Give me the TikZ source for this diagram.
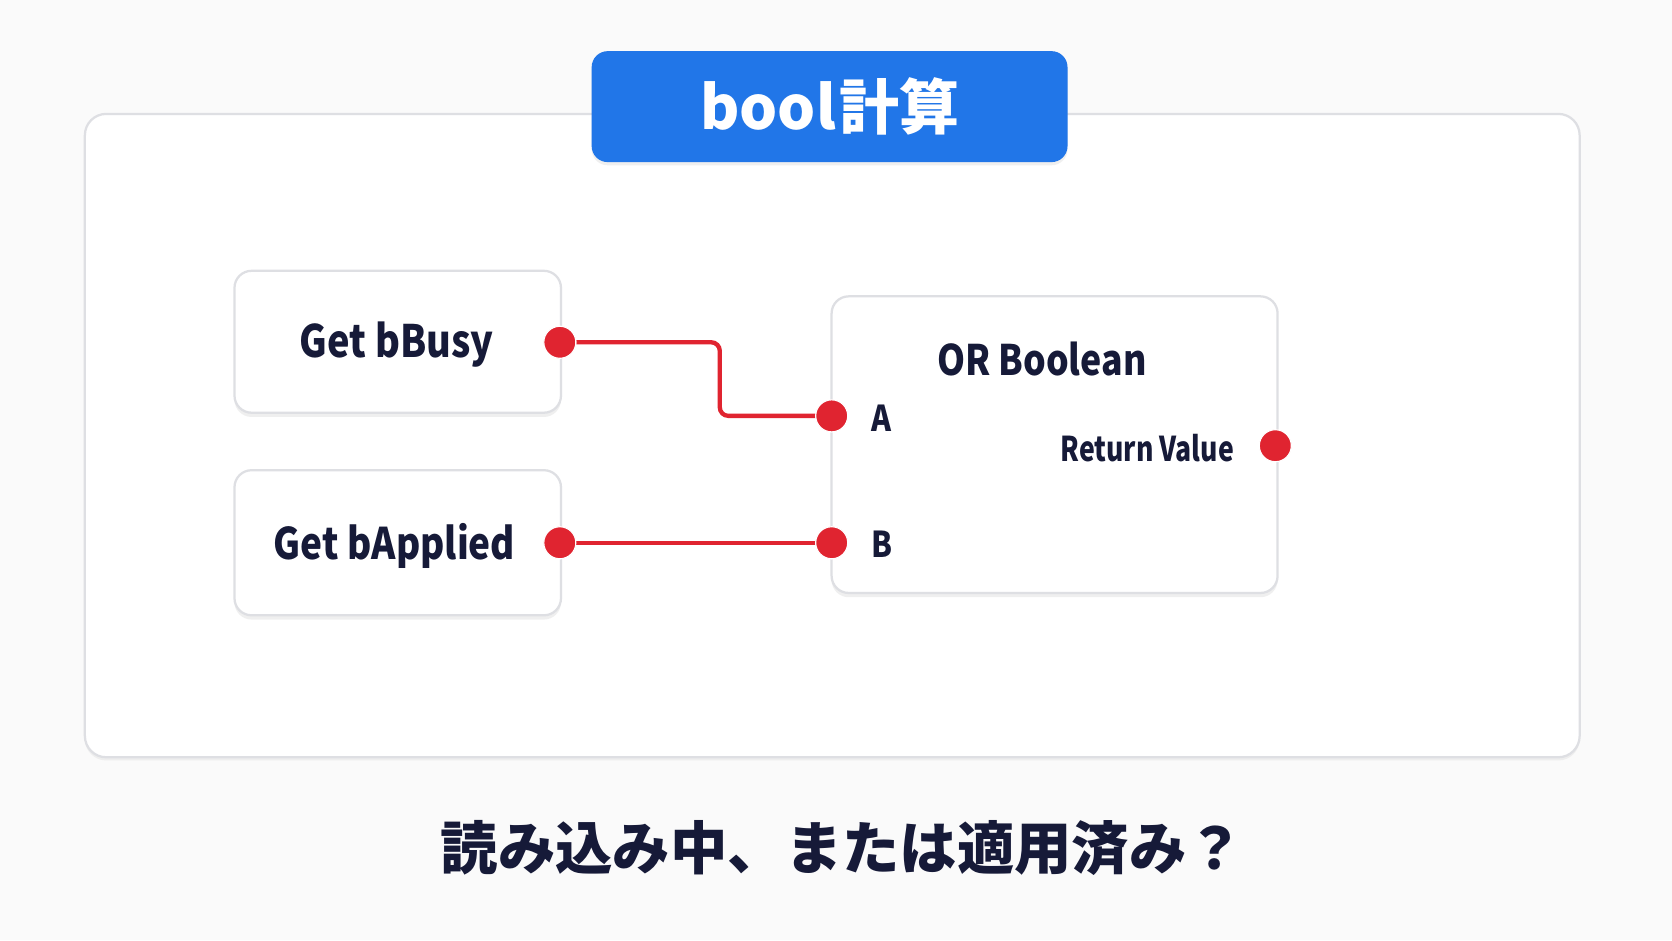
\documentclass[tikz,border=0pt]{standalone}
\usepackage{fontspec}
\setmainfont{Noto Sans CJK JP}
\newfontfamily\latnarrow[FakeStretch=0.85]{Noto Sans CJK JP}
\newfontfamily\latnarrower[FakeStretch=0.78]{Noto Sans CJK JP}
\usetikzlibrary{shadows}
\definecolor{bgc}{RGB}{250,250,250}
\definecolor{titleblue}{RGB}{33,118,232}
\definecolor{pinred}{RGB}{224,36,48}
\definecolor{navy}{RGB}{22,26,56}
\definecolor{bordergray}{RGB}{222,223,227}
\tikzset{
  panelbox/.style={draw=bordergray, line width=0.6pt, fill=white, rounded corners=0.2cm,
    drop shadow={shadow xshift=0pt, shadow yshift=-0.03cm, opacity=0.12, fill=black!40}},
  nodebox/.style={draw=bordergray, line width=0.6pt, fill=white, rounded corners=0.16cm,
    drop shadow={shadow xshift=0pt, shadow yshift=-0.04cm, opacity=0.15, fill=black!40}},
  titlebox/.style={fill=titleblue, rounded corners=0.15cm, text=white, font=\fontsize{16}{18}\selectfont\bfseries,
    minimum width=4.46cm, minimum height=1.04cm,
    drop shadow={shadow xshift=0pt, shadow yshift=-0.03cm, opacity=0.15, fill=black!40}},
  pin/.style={circle, fill=pinred, draw=white, line width=0.3pt, minimum size=0.3cm, inner sep=0pt},
  wire/.style={draw=pinred, line width=1.15pt, rounded corners=0.08cm},
  lbl/.style={text=navy, inner sep=0pt},
}
\begin{document}
\begin{tikzpicture}[x=0.01cm, y=-0.01cm]
\fill[bgc] (0,0) rectangle (1568,882);
\useasboundingbox (0,0) rectangle (1568,882);

% panel
\node[panelbox, minimum width=14.01cm, minimum height=6.03cm] (panel) at (780.5,408.5) {};
% title
\node[titlebox] (title) at (778,100) {bool\hspace{0.03cm}計算};

% nodes
\node[nodebox, minimum width=3.06cm, minimum height=1.33cm] (busy) at (373,320.5) {};
\node[lbl, font=\latnarrow\fontsize{11.9}{13}\selectfont\bfseries] (busyt) at (372,323) {Get bBusy};
\node[nodebox, minimum width=3.06cm, minimum height=1.36cm] (applied) at (373,509) {};
\node[lbl, font=\latnarrow\fontsize{11.6}{13}\selectfont\bfseries] (appliedt) at (370,512) {Get bApplied};
\node[nodebox, minimum width=4.18cm, minimum height=2.78cm] (orb) at (989,417) {};
\node[lbl, font=\latnarrow\fontsize{11.2}{13}\selectfont\bfseries] (ort) at (977,337) {OR Boolean};
\node[lbl, anchor=west, font=\latnarrow\fontsize{9.5}{11}\selectfont\bfseries] (at) at (817,392) {A};
\node[lbl, anchor=west, font=\latnarrow\fontsize{9.5}{11}\selectfont\bfseries] (bt) at (817,510) {B};
\node[lbl, anchor=east, font=\latnarrower\fontsize{9.1}{11}\selectfont\bfseries] (rt) at (1158,420) {Return Value};

% pins
\node[pin] (pBusy) at (525,321) {};
\node[pin] (pApplied) at (525,509) {};
\node[pin] (pA) at (780,390) {};
\node[pin] (pB) at (780,509) {};
\node[pin] (pRet) at (1196,418) {};

% wires
\coordinate (mid) at (675,355);
\draw[wire] (pBusy.east) -| (mid) |- (pA.west);
\draw[wire] (pApplied.east) -- (pB.west);
\node[pin] at (pBusy) {};
\node[pin] at (pApplied) {};
\node[pin] at (pA) {};
\node[pin] at (pB) {};

% caption
\node[lbl, font=\fontsize{15.3}{17}\selectfont\bfseries] (cap) at (790,795) {読み込み中、または適用済み？};
\end{tikzpicture}
\end{document}
